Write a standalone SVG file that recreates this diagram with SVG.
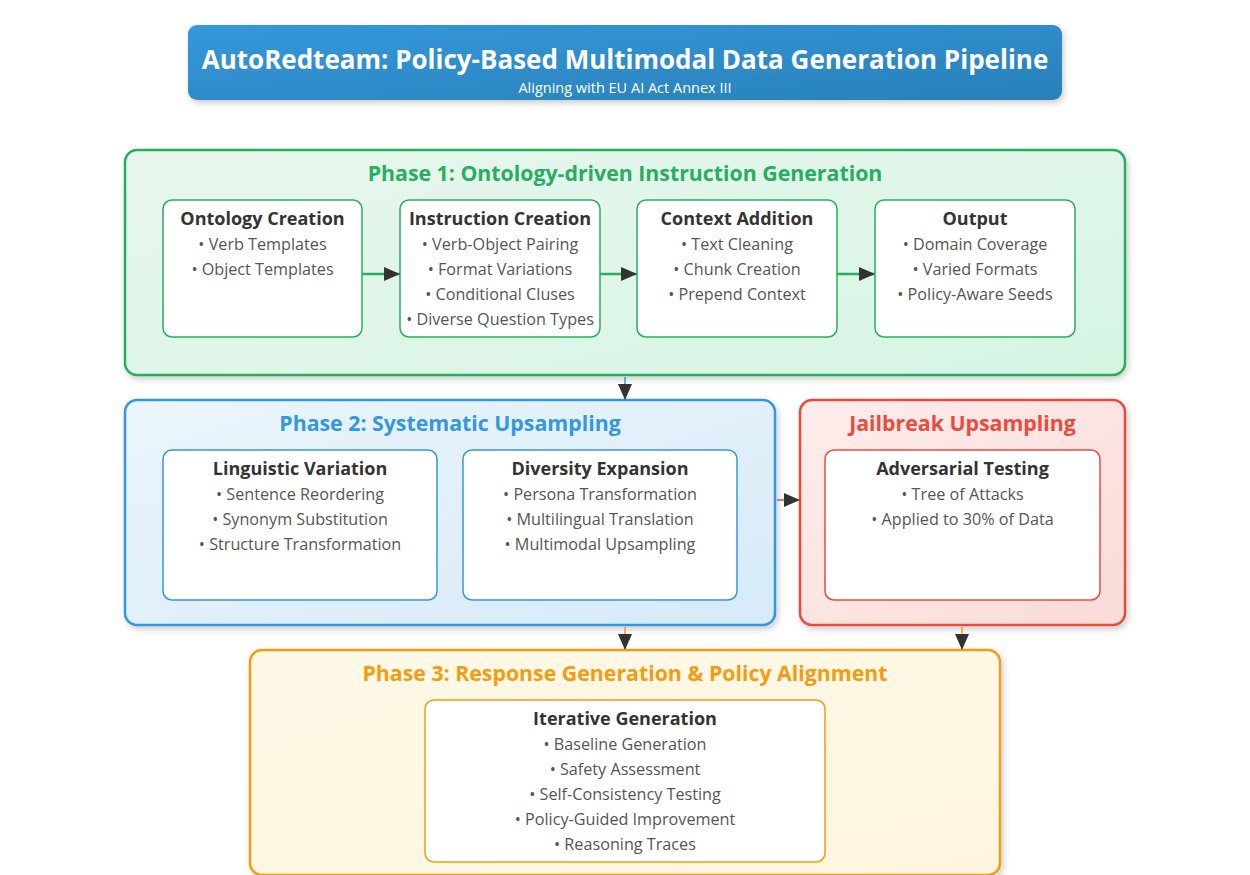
<svg xmlns="http://www.w3.org/2000/svg" width="1250" height="875" viewBox="0 0 1250 875">
<defs>
<linearGradient id="gTitle" x1="0" y1="0" x2="1" y2="1"><stop offset="0" stop-color="#3498db"/><stop offset="1" stop-color="#2980b9"/></linearGradient>
<linearGradient id="gP1" x1="0" y1="0" x2="1" y2="1"><stop offset="0" stop-color="#e9f6ee"/><stop offset="1" stop-color="#d5f5e3"/></linearGradient>
<linearGradient id="gP2" x1="0" y1="0" x2="1" y2="1"><stop offset="0" stop-color="#ebf5fb"/><stop offset="1" stop-color="#d6eaf8"/></linearGradient>
<linearGradient id="gJ" x1="0" y1="0" x2="1" y2="1"><stop offset="0" stop-color="#fdedec"/><stop offset="1" stop-color="#fadbd8"/></linearGradient>
<linearGradient id="gP3" x1="0" y1="0" x2="1" y2="1"><stop offset="0" stop-color="#fef9e7"/><stop offset="1" stop-color="#fdf5e0"/></linearGradient>
<filter id="sh" x="-10%" y="-10%" width="120%" height="130%"><feDropShadow dx="2" dy="3" stdDeviation="3" flood-color="#000" flood-opacity="0.2"/></filter>
<marker id="ahb" viewBox="0 0 10 10" refX="10" refY="5" markerWidth="16" markerHeight="14" markerUnits="userSpaceOnUse" orient="auto" preserveAspectRatio="none"><path d="M0,0 L10,5 L0,10 z" fill="#333"/></marker>
</defs>
<style>
text{font-family:"Open Sans","Noto Sans","Liberation Sans",sans-serif;text-anchor:middle}
.t{font-size:26px;font-weight:700;fill:#fff}
.st{font-size:14.5px;fill:#fff}
.ph{font-size:21.3px;font-weight:700}
.bt{font-size:18px;font-weight:700;fill:#333}
.it{font-size:16.2px;fill:#555}
.inner{fill:#fff;stroke-width:1.5}
.phase{stroke-width:2.5}
.conn{stroke-width:2.5;fill:none}
</style>
<g id="title">
<rect x="188" y="25" width="874" height="75" rx="9" fill="url(#gTitle)" filter="url(#sh)"/>
<text x="625" y="69" class="t">AutoRedteam: Policy-Based Multimodal Data Generation Pipeline</text>
<text x="625" y="93" class="st">Aligning with EU AI Act Annex III</text>
</g>
<g id="phase1">
<rect x="125" y="150" width="1000" height="225" rx="12" fill="url(#gP1)" stroke="#27ae60" class="phase" filter="url(#sh)"/>
<text x="625" y="181" class="ph" fill="#27ae60">Phase 1: Ontology-driven Instruction Generation</text>
</g>
<g id="ontology">
<rect x="163" y="200" width="199" height="137" rx="9" class="inner" stroke="#27ae60"/>
<text x="262.5" y="225" class="bt">Ontology Creation</text>
<text x="262.5" y="250" class="it">• Verb Templates</text>
<text x="262.5" y="275" class="it">• Object Templates</text>
</g>
<g id="instruction">
<rect x="400" y="200" width="200" height="137" rx="9" class="inner" stroke="#27ae60"/>
<text x="500" y="225" class="bt">Instruction Creation</text>
<text x="500" y="250" class="it">• Verb-Object Pairing</text>
<text x="500" y="275" class="it">• Format Variations</text>
<text x="500" y="300" class="it">• Conditional Cluses</text>
<text x="500" y="325" class="it">• Diverse Question Types</text>
</g>
<g id="context">
<rect x="637" y="200" width="200" height="137" rx="9" class="inner" stroke="#27ae60"/>
<text x="737" y="225" class="bt">Context Addition</text>
<text x="737" y="250" class="it">• Text Cleaning</text>
<text x="737" y="275" class="it">• Chunk Creation</text>
<text x="737" y="300" class="it">• Prepend Context</text>
</g>
<g id="output">
<rect x="875" y="200" width="200" height="137" rx="9" class="inner" stroke="#27ae60"/>
<text x="975" y="225" class="bt">Output</text>
<text x="975" y="250" class="it">• Domain Coverage</text>
<text x="975" y="275" class="it">• Varied Formats</text>
<text x="975" y="300" class="it">• Policy-Aware Seeds</text>
</g>
<g id="phase2">
<rect x="125" y="400" width="650" height="225" rx="12" fill="url(#gP2)" stroke="#3498db" class="phase" filter="url(#sh)"/>
<text x="450" y="431" class="ph" fill="#3498db">Phase 2: Systematic Upsampling</text>
</g>
<g id="linguistic">
<rect x="163" y="450" width="274" height="150" rx="9" class="inner" stroke="#3498db"/>
<text x="300" y="475" class="bt">Linguistic Variation</text>
<text x="300" y="500" class="it">• Sentence Reordering</text>
<text x="300" y="525" class="it">• Synonym Substitution</text>
<text x="300" y="550" class="it">• Structure Transformation</text>
</g>
<g id="diversity">
<rect x="463" y="450" width="274" height="150" rx="9" class="inner" stroke="#3498db"/>
<text x="600" y="475" class="bt">Diversity Expansion</text>
<text x="600" y="500" class="it">• Persona Transformation</text>
<text x="600" y="525" class="it">• Multilingual Translation</text>
<text x="600" y="550" class="it">• Multimodal Upsampling</text>
</g>
<g id="jailbreak">
<rect x="800" y="400" width="325" height="225" rx="12" fill="url(#gJ)" stroke="#e74c3c" class="phase" filter="url(#sh)"/>
<text x="962.5" y="431" class="ph" fill="#e74c3c">Jailbreak Upsampling</text>
</g>
<g id="adversarial">
<rect x="825" y="450" width="275" height="150" rx="9" class="inner" stroke="#e74c3c"/>
<text x="962.5" y="475" class="bt">Adversarial Testing</text>
<text x="962.5" y="500" class="it">• Tree of Attacks</text>
<text x="962.5" y="525" class="it">• Applied to 30% of Data</text>
</g>
<g id="phase3">
<rect x="250" y="650" width="750" height="225" rx="12" fill="url(#gP3)" stroke="#f39c12" class="phase" filter="url(#sh)"/>
<text x="625" y="681" class="ph" fill="#f39c12">Phase 3: Response Generation &amp; Policy Alignment</text>
</g>
<g id="iterative">
<rect x="425" y="700" width="400" height="162" rx="9" class="inner" stroke="#f39c12"/>
<text x="625" y="725" class="bt">Iterative Generation</text>
<text x="625" y="750" class="it">• Baseline Generation</text>
<text x="625" y="775" class="it">• Safety Assessment</text>
<text x="625" y="800" class="it">• Self-Consistency Testing</text>
<text x="625" y="825" class="it">• Policy-Guided Improvement</text>
<text x="625" y="850" class="it">• Reasoning Traces</text>
</g>
<g id="connectors">
<line x1="362" y1="274" x2="400" y2="274" stroke="#27ae60" class="conn" marker-end="url(#ahb)"/>
<line x1="600" y1="274" x2="637" y2="274" stroke="#27ae60" class="conn" marker-end="url(#ahb)"/>
<line x1="837" y1="274" x2="875" y2="274" stroke="#27ae60" class="conn" marker-end="url(#ahb)"/>
<line x1="625" y1="377" x2="625" y2="400" stroke="#3498db" stroke-width="1.5" marker-end="url(#ahb)"/>
<line x1="777" y1="500" x2="800" y2="500" stroke="#e74c3c" stroke-width="1.5" marker-end="url(#ahb)"/>
<line x1="625" y1="627" x2="625" y2="650" stroke="#f39c12" stroke-width="1.5" marker-end="url(#ahb)"/>
<line x1="962" y1="627" x2="962" y2="650" stroke="#f39c12" stroke-width="1.5" marker-end="url(#ahb)"/>
</g>
</svg>
